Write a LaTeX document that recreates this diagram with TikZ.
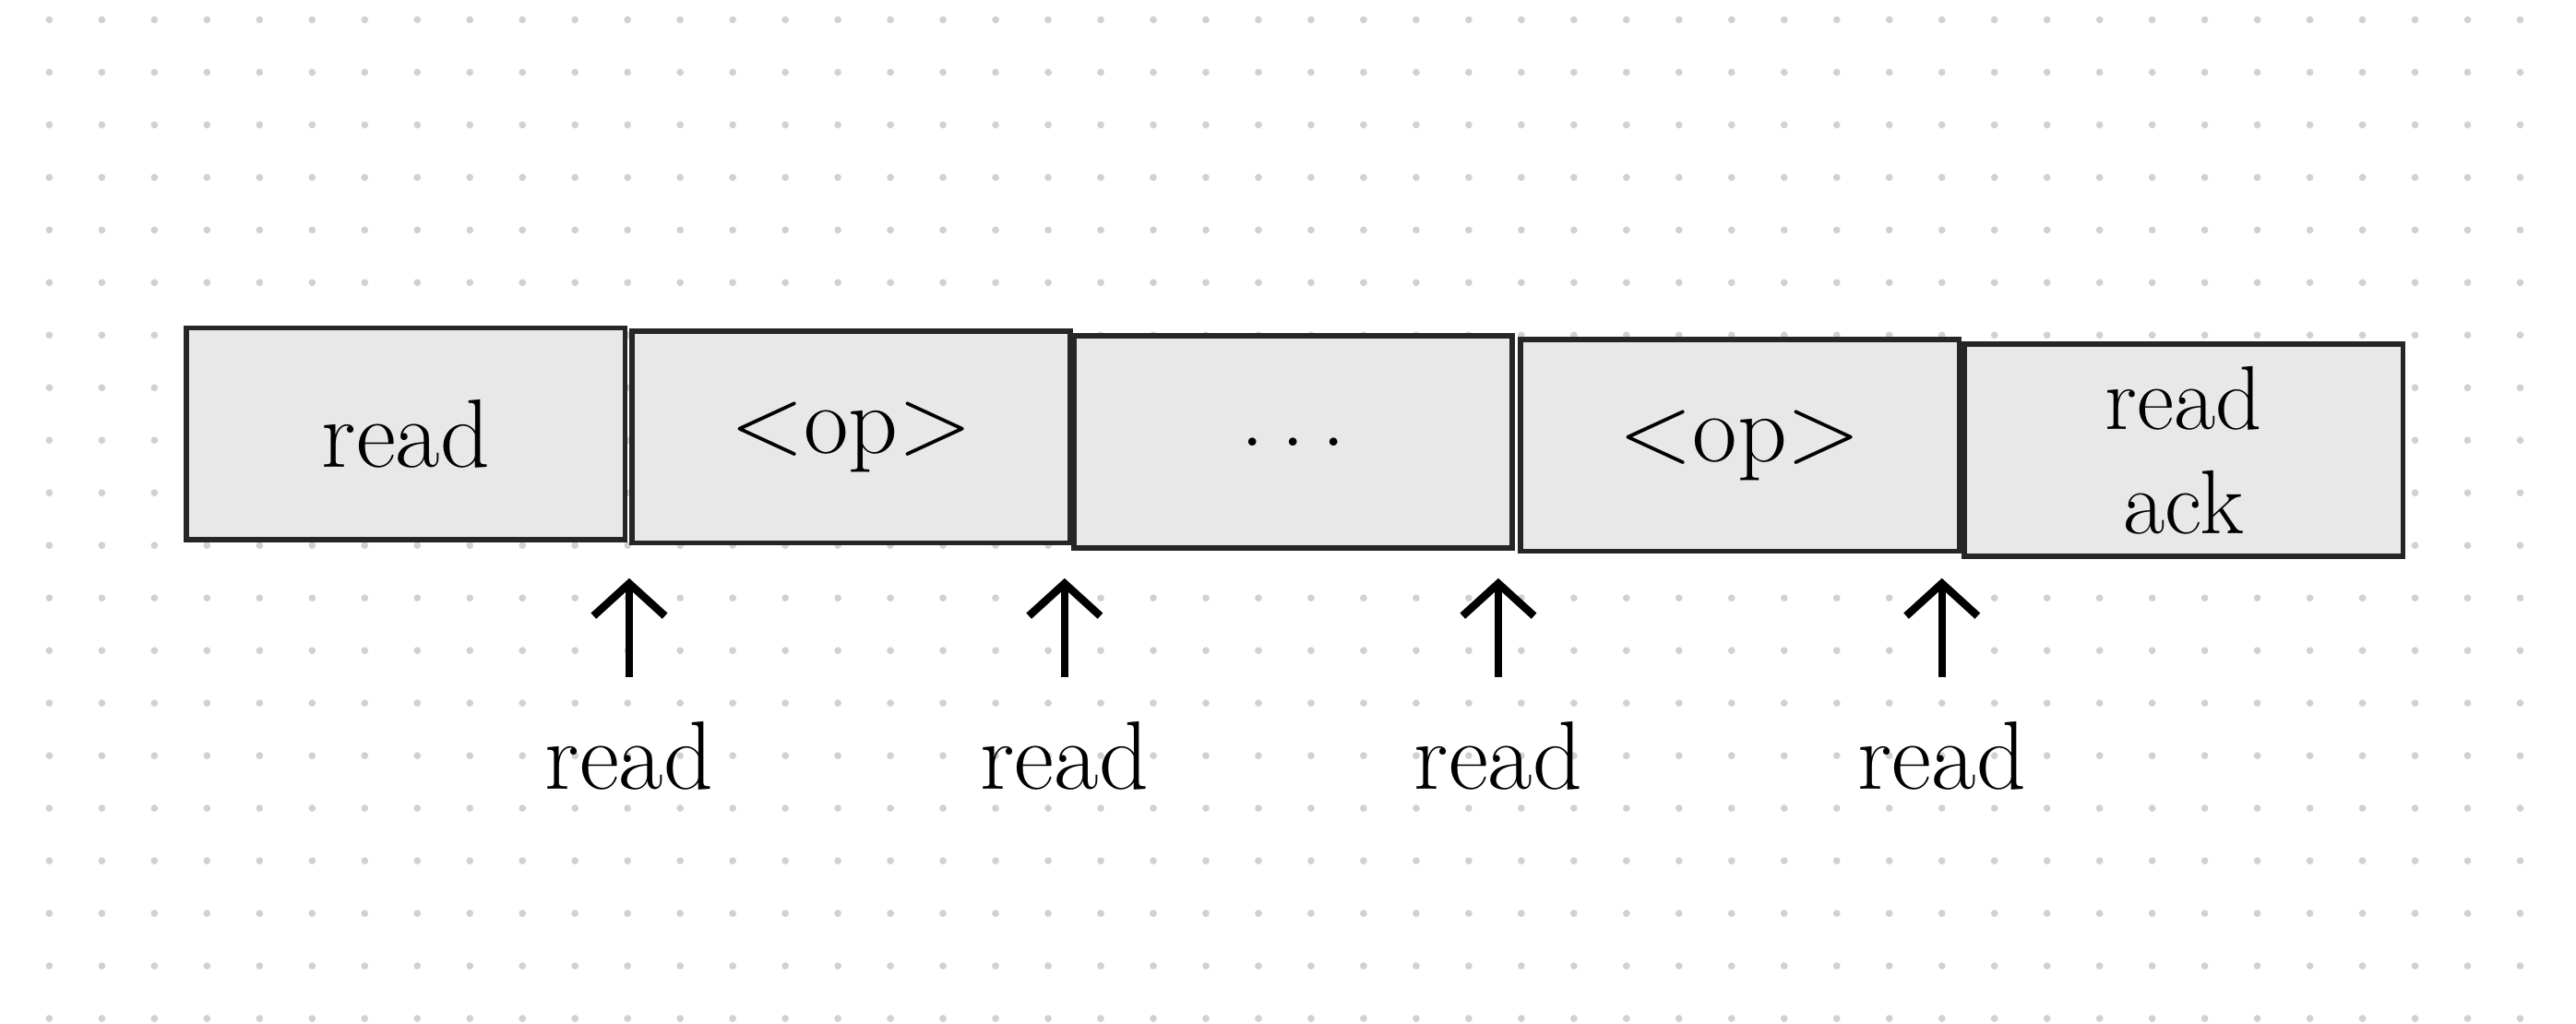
\documentclass[tikz,border=0pt]{standalone}
\usetikzlibrary{arrows.meta}
\begin{document}
\begin{tikzpicture}[
    x=0.017806cm, y=-0.017806cm,
    cell/.style={
        inner sep=0pt,
        rectangle,
        draw=black!85,
        line width=1.6pt,
        fill=black!9,
        minimum width=267*0.017806cm,
        minimum height=129*0.017806cm,
        anchor=north west,
        align=center,
    },
    every node/.style={
        font=\fontsize{30}{33}\selectfont,
    },
    ptr/.style={
        -{Straight Barb[length=10pt,width=22pt,line width=2.4pt]},
        line width=2.4pt,
    },
]
    \useasboundingbox (0,0) rectangle (1568,623);
    % dot grid
    \foreach \gx in {30,62,...,1560} {
        \foreach \gy in {12,44,...,620} {
            \fill[black!18] (\gx,\gy) circle (1.1pt);
        }
    }

    \node[cell] (b1) at (112,198) {read};
    \node[cell] (b2) at (383,200) {<op>};
    \node[cell] (b3) at (652,203) {.\,.\,.};
    \node[cell] (b4) at (924,205) {<op>};
    \node[cell,font=\fontsize{28}{32}\selectfont] (b5) at (1194,208) {read\\ack};

    \foreach \px [count=\i] in {383,648,912,1182} {
        \coordinate (t\i) at (\px,352);
        \node (r\i) at (\px,460) {read};
        \draw[ptr] (\px,412) -- (t\i);
    }
\end{tikzpicture}
\end{document}
